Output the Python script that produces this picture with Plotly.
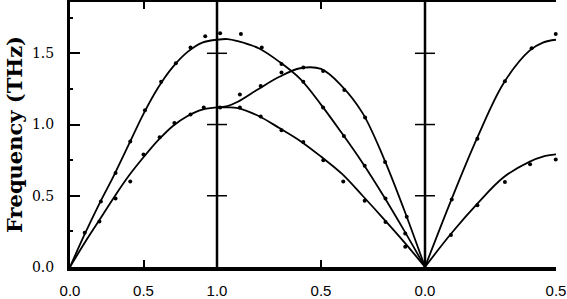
import plotly.graph_objects as go

# ---------------- data ----------------
# Panel 1: Gamma -> X  (xi from 0 to 1)
p1_x = [0.0, 0.1, 0.2, 0.3, 0.4, 0.5, 0.6, 0.7, 0.8, 0.9, 1.0]
p1_upper = [0.0, 0.23, 0.445, 0.645, 0.86, 1.075, 1.26, 1.405, 1.51, 1.575, 1.595]
p1_lower = [0.0, 0.17, 0.33, 0.49, 0.64, 0.77, 0.89, 0.99, 1.06, 1.105, 1.12]
p1_upper_dx = [0.10, 0.21, 0.31, 0.41, 0.51, 0.62, 0.72, 0.82, 0.92]
p1_upper_dy = [0.24, 0.46, 0.66, 0.88, 1.10, 1.30, 1.43, 1.54, 1.62]
p1_lower_dx = [0.20, 0.31, 0.41, 0.50, 0.61, 0.71, 0.82, 0.91]
p1_lower_dy = [0.32, 0.48, 0.60, 0.79, 0.91, 1.01, 1.07, 1.12]

# Panel 2: X -> Gamma  (xi from 1 to 0)
p2_x = [1.0, 0.95, 0.9, 0.8, 0.7, 0.6, 0.5, 0.4, 0.3, 0.2, 0.1, 0.0]
p2_upper = [1.595, 1.60, 1.585, 1.535, 1.44, 1.32, 1.14, 0.94, 0.73, 0.50, 0.255, 0.0]
p2_middle = [1.12, 1.13, 1.16, 1.25, 1.335, 1.395, 1.39, 1.27, 1.08, 0.77, 0.40, 0.0]
p2_lower = [1.12, 1.12, 1.115, 1.06, 0.975, 0.885, 0.775, 0.655, 0.50, 0.34, 0.175, 0.0]
p2_upper_dx = [0.985, 0.885, 0.785, 0.69, 0.585, 0.49, 0.39, 0.29, 0.19, 0.095]
p2_upper_dy = [1.64, 1.635, 1.54, 1.425, 1.30, 1.12, 0.92, 0.71, 0.48, 0.235]
p2_middle_dx = [0.89, 0.79, 0.69, 0.585, 0.49, 0.388, 0.288, 0.192, 0.088]
p2_middle_dy = [1.21, 1.27, 1.365, 1.40, 1.375, 1.243, 1.05, 0.737, 0.352]
p2_lower_dx = [0.985, 0.89, 0.79, 0.69, 0.585, 0.489, 0.393, 0.29, 0.19, 0.095]
p2_lower_dy = [1.12, 1.12, 1.057, 0.96, 0.877, 0.75, 0.60, 0.465, 0.316, 0.143]

# Panel 3: Gamma -> L  (xi from 0 to 0.5)
p3_x = [0.0, 0.1, 0.2, 0.3, 0.4, 0.45, 0.5]
p3_upper = [0.0, 0.47, 0.91, 1.29, 1.52, 1.575, 1.595]
p3_lower = [0.0, 0.235, 0.445, 0.63, 0.74, 0.775, 0.79]
p3_upper_dx = [0.102, 0.20, 0.305, 0.407, 0.499]
p3_upper_dy = [0.474, 0.90, 1.304, 1.535, 1.635]
p3_lower_dx = [0.099, 0.20, 0.305, 0.401, 0.499]
p3_lower_dy = [0.224, 0.434, 0.597, 0.721, 0.754]

y_ticks = [0.0, 0.5, 1.0, 1.5]
y_ticklabels = ["0.0", "0.5", "1.0", "1.5"]
y_range = [0.0, 1.86]

# ---------------- figure ----------------
W, H = 567, 299
ml, mr, mt, mb = 70, 11, 2, 32
pw = W - ml - mr
d1 = 147 / pw
d2 = 355 / pw

fig = go.Figure()
LC = "black"

def add_curve(x, y, xa):
    fig.add_trace(go.Scatter(x=x, y=y, mode="lines", xaxis=xa, yaxis="y",
                             line=dict(color=LC, width=1.8, shape="spline", smoothing=1.0),
                             showlegend=False, hoverinfo="skip"))

def add_dots(x, y, xa):
    fig.add_trace(go.Scatter(x=x, y=y, mode="markers", xaxis=xa, yaxis="y",
                             marker=dict(color=LC, size=4), cliponaxis=False,
                             showlegend=False, hoverinfo="skip"))

add_curve(p1_x, p1_upper, "x")
add_curve(p1_x, p1_lower, "x")
add_dots(p1_upper_dx, p1_upper_dy, "x")
add_dots(p1_lower_dx, p1_lower_dy, "x")

add_curve(p2_x, p2_upper, "x2")
add_curve(p2_x, p2_middle, "x2")
add_curve(p2_x, p2_lower, "x2")
add_dots(p2_upper_dx, p2_upper_dy, "x2")
add_dots(p2_middle_dx, p2_middle_dy, "x2")
add_dots(p2_lower_dx, p2_lower_dy, "x2")

add_curve(p3_x, p3_upper, "x3")
add_curve(p3_x, p3_lower, "x3")
add_dots(p3_upper_dx, p3_upper_dy, "x3")
add_dots(p3_lower_dx, p3_lower_dy, "x3")

xtickfont = dict(family="Liberation Sans", size=15, color="black")
ytickfont = dict(family="DejaVu Serif", size=14, color="black")
common_x = dict(showgrid=False, zeroline=False, ticks="inside", ticklen=7, tickwidth=1.5,
                tickcolor="black", mirror="ticks", showline=True, linecolor="black",
                linewidth=3.5, tickfont=xtickfont, anchor="y", ticklabelstandoff=7,
                automargin=False)

fig.update_layout(
    width=W, height=H,
    margin=dict(l=ml, r=mr, t=mt, b=mb),
    paper_bgcolor="white", plot_bgcolor="white",
    xaxis=dict(domain=[0, d1], range=[0, 1], tickvals=[0, 0.5, 1.0],
               ticktext=["0.0", "0.5", "1.0"], **common_x),
    xaxis2=dict(domain=[d1, d2], range=[1, 0], tickvals=[0.5, 0.0],
                ticktext=["0.5", "0.0"], **common_x),
    xaxis3=dict(domain=[d2, 1], range=[0, 0.5], tickvals=[0.0, 0.5],
                ticktext=["", "0.5"], **common_x),
    yaxis=dict(range=y_range, tickvals=y_ticks, ticktext=y_ticklabels, anchor="x",
               showgrid=False, zeroline=False, ticks="inside", ticklen=10, tickwidth=1.5,
               tickcolor="black", showline=True, linecolor="black", linewidth=3,
               tickfont=ytickfont, ticklabelstandoff=10, automargin=False,
               minor=dict(ticks="inside", ticklen=3, dtick=0.25, tickcolor="black"),
               title=dict(text="Frequency (THz)", standoff=4,
                          font=dict(family="DejaVu Serif", size=21, color="black", weight="bold"))),
    yaxis2=dict(range=y_range, tickvals=y_ticks, anchor="x3", overlaying="y", side="right",
                showgrid=False, zeroline=False, ticks="inside", ticklen=10, tickwidth=1.5,
                tickcolor="black", showline=True, linecolor="black", linewidth=3,
                showticklabels=False, automargin=False),
)

# panel dividers with crossing ticks
shapes = []
for xp in [d1, d2]:
    shapes.append(dict(type="line", xref="paper", yref="y", x0=xp, x1=xp,
                       y0=y_range[0], y1=y_range[1], line=dict(color="black", width=2.5)))
    for yt in y_ticks[1:]:
        shapes.append(dict(type="line", xref="paper", yref="y", xsizemode="pixel",
                           xanchor=xp, x0=-10, x1=10, y0=yt, y1=yt,
                           line=dict(color="black", width=1.5)))
fig.update_layout(shapes=shapes)

fig.write_html("out.html")
